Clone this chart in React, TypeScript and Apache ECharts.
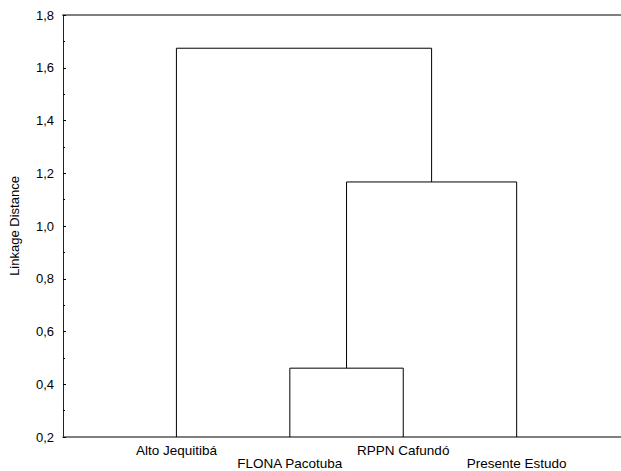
import React, { useEffect, useRef } from "react";
import * as echarts from "echarts";

const leafNames = ["Alto Jequitibá", "FLONA Pacotuba", "RPPN Cafundó", "Presente Estudo"];
const leafPositions = [1, 2, 3, 4];
// each merge: left x, right x, left child height, right child height, linkage height
const mergeLeftX = [2, 2.5, 1];
const mergeRightX = [3, 4, 3.25];
const mergeLeftBase = [0.2, 0.461, 0.2];
const mergeRightBase = [0.2, 0.2, 1.167];
const mergeHeights = [0.461, 1.167, 1.674];
const yTicks = [0.2, 0.4, 0.6, 0.8, 1.0, 1.2, 1.4, 1.6, 1.8];

const FONT = "'Liberation Sans', Arial, sans-serif";

export default function App() {
  const ref = useRef<HTMLDivElement>(null);
  useEffect(() => {
    if (!ref.current) return;
    const chart = echarts.init(ref.current, undefined, { renderer: "svg" });
    const series = mergeHeights.map((h, i) => ({
      type: "line",
      silent: true,
      symbol: "none",
      lineStyle: { color: "#000", width: 1 },
      data: [
        [mergeLeftX[i], mergeLeftBase[i]],
        [mergeLeftX[i], h],
        [mergeRightX[i], h],
        [mergeRightX[i], mergeRightBase[i]],
      ],
    }));
    chart.setOption({
      animation: false,
      backgroundColor: "#fff",
      grid: { left: 62, right: -2, top: 15, bottom: 34, containLabel: false },
      xAxis: [
        {
          type: "value",
          min: 0,
          max: 4.92,
          interval: 1,
          axisLine: { show: true, lineStyle: { color: "#555", width: 1.5 } },
          axisTick: { show: false },
          splitLine: { show: false },
          axisLabel: {
            showMaxLabel: false,
            margin: 7,
            fontFamily: FONT,
            fontSize: 13.5,
            lineHeight: 13,
            color: "#000",
            formatter: (v: number) => {
              const idx = leafPositions.indexOf(v);
              if (idx < 0) return "";
              return idx % 2 === 1 ? "\n" + leafNames[idx] : leafNames[idx];
            },
          },
        },
        {
          type: "value",
          position: "top",
          min: 0,
          max: 4.92,
          axisLine: { show: true, lineStyle: { color: "#7f7f7f", width: 2 } },
          axisTick: { show: false },
          axisLabel: { show: false },
          splitLine: { show: false },
        },
      ],
      yAxis: {
        type: "value",
        min: yTicks[0],
        max: yTicks[yTicks.length - 1],
        interval: 0.2,
        name: "Linkage Distance",
        nameLocation: "middle",
        nameGap: 42,
        nameTextStyle: { fontFamily: FONT, fontSize: 13, color: "#000" },
        axisLine: { show: true, lineStyle: { color: "#222", width: 1 } },
        axisTick: { show: true, inside: true, length: 3, lineStyle: { color: "#000" } },
        minorTick: { show: true, splitNumber: 2, length: 2, lineStyle: { color: "#000" } },
        splitLine: { show: false },
        axisLabel: {
          margin: 9,
          fontFamily: FONT,
          fontSize: 13,
          color: "#000",
          formatter: (v: number) => v.toFixed(1).replace(".", ","),
        },
      },
      series,
    });
    return () => chart.dispose();
  }, []);
  return (
    <div
      ref={ref}
      style={{ position: "absolute", left: 0, top: 0, width: 621, height: 471, background: "#fff" }}
    />
  );
}
